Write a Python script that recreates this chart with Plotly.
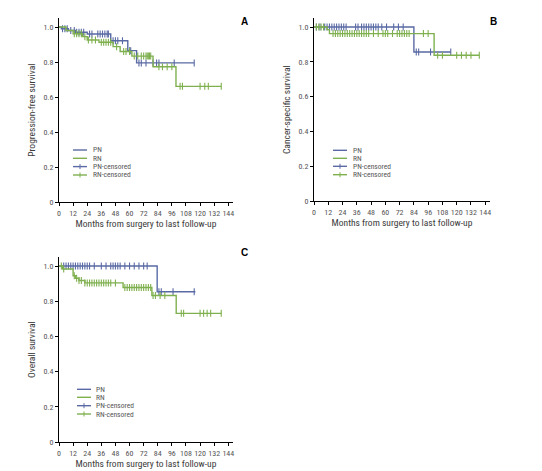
import bisect
import plotly.graph_objects as go

W, H = 542, 471

# ---------------- data ----------------
x_ticks = [0, 12, 24, 36, 48, 60, 72, 84, 96, 108, 120, 132, 144]
y_ticks = [0, 0.2, 0.4, 0.6, 0.8, 1.0]
y_tick_labels = ["0", "0.2", "0.4", "0.6", "0.8", "1.0"]
legend_labels = ["PN", "RN", "PN-censored", "RN-censored"]

# Panel A: progression-free survival
a_pn_times = [0, 2, 8, 14, 24, 44, 58.5, 66]
a_pn_surv = [1.0, 0.99, 0.98, 0.97, 0.96, 0.922, 0.865, 0.795]
a_pn_end = 115
a_pn_cens = [3, 5, 7, 10, 13, 15, 17, 19, 21, 26, 28, 33, 35, 37, 39, 41, 42, 46, 48,
             50, 54, 60, 61, 68, 70, 74, 80, 83, 85, 98, 115]
a_rn_times = [0, 6, 12, 20, 24, 34, 46, 52, 62, 80, 99.5]
a_rn_surv = [1.0, 0.98, 0.962, 0.945, 0.926, 0.913, 0.888, 0.86, 0.834, 0.773, 0.661]
a_rn_end = 138
a_rn_cens = [13, 15, 17, 19, 22, 25, 28, 31, 36, 38, 40, 42, 44, 49, 55, 57, 60, 64, 67,
             70, 72, 74, 75, 76, 77, 78, 85, 88, 92, 96, 103, 105, 120, 124, 127, 138]

# Panel B: cancer-specific survival
b_pn_times = [0, 84]
b_pn_surv = [1.0, 0.856]
b_pn_end = 115
b_pn_cens = [2, 5, 9, 11, 13, 15, 17, 19, 21, 23, 25, 27, 35, 37, 40, 42, 44, 46, 48, 50,
             52, 54, 57, 61, 67, 71, 75, 86, 88, 98, 115]
b_rn_times = [0, 11, 13, 101]
b_rn_surv = [1.0, 0.985, 0.962, 0.838]
b_rn_end = 139
b_rn_cens = [2, 4, 6, 8, 16, 18, 20, 22, 24, 26, 28, 30, 32, 34, 36, 38, 40, 42, 44, 46,
             50, 54, 58, 60, 62, 66, 70, 72, 74, 76, 78, 80, 92, 96, 104, 108, 120, 124,
             128, 132, 139]

# Panel C: overall survival
c_pn_times = [0, 83.5]
c_pn_surv = [1.0, 0.854]
c_pn_end = 116
c_pn_cens = [4, 6, 8, 10, 12, 14, 16, 18, 20, 22, 24, 26, 30, 36, 40, 44, 46, 48, 50, 52,
             56, 60, 64, 68, 72, 75, 85, 87, 97, 115]
c_rn_times = [0, 3, 12, 14, 17, 22, 54.5, 79, 99.7]
c_rn_surv = [1.0, 0.983, 0.945, 0.93, 0.918, 0.904, 0.878, 0.832, 0.731]
c_rn_end = 138
c_rn_cens = [2, 4, 13, 15, 17, 19, 22, 24, 26, 28, 30, 32, 34, 36, 38, 40, 42, 44, 48, 56,
             58, 60, 62, 64, 66, 68, 70, 72, 74, 76, 78, 80, 82, 86, 90, 104, 106, 120,
             123, 126, 129, 138]

# ---------------- style ----------------
BLUE = "#5a6aa4"
GREEN = "#7fb04f"
FONT = "Liberation Sans Narrow, Arial Narrow, Roboto Condensed, Liberation Sans, sans-serif"
TICK_COLOR = "#555555"
TITLE_COLOR = "#3a3a3a"


def px(x):
    return x / W


def py(y):
    return 1 - y / H


def surv_at(times, surv, t):
    i = bisect.bisect_right(times, t) - 1
    return surv[max(i, 0)]


fig = go.Figure()

panels = [
    dict(name="A", ytitle="Progression-free survival",
         pn=(a_pn_times, a_pn_surv, a_pn_end, a_pn_cens),
         rn=(a_rn_times, a_rn_surv, a_rn_end, a_rn_cens),
         xdom=(59, 233), ydom=(202, 18.3), label=(244, 14),
         leg=dict(x0=73, x1=87, tx=91, rows=[150, 158.3, 166.6, 175])),
    dict(name="B", ytitle="Cancer-specific survival",
         pn=(b_pn_times, b_pn_surv, b_pn_end, b_pn_cens),
         rn=(b_rn_times, b_rn_surv, b_rn_end, b_rn_cens),
         xdom=(314, 490), ydom=(201, 18.3), label=(499, 14),
         leg=dict(x0=333, x1=347, tx=351, rows=[150.3, 158.3, 166.3, 174.7])),
    dict(name="C", ytitle="Overall survival",
         pn=(c_pn_times, c_pn_surv, c_pn_end, c_pn_cens),
         rn=(c_rn_times, c_rn_surv, c_rn_end, c_rn_cens),
         xdom=(59, 233), ydom=(442, 257.2), label=(244, 252),
         leg=dict(x0=77, x1=91, tx=94, rows=[389.3, 397.3, 405.7, 414])),
]

for k, p in enumerate(panels, start=1):
    xa = "x" if k == 1 else f"x{k}"
    ya = "y" if k == 1 else f"y{k}"
    for (times, surv, end, cens), color in ((p["pn"], BLUE), (p["rn"], GREEN)):
        fig.add_trace(go.Scatter(
            x=times + [end], y=surv + [surv[-1]], mode="lines",
            line=dict(color=color, width=1.4, shape="hv"),
            xaxis=xa, yaxis=ya, showlegend=False, hoverinfo="skip"))
        fig.add_trace(go.Scatter(
            x=cens, y=[surv_at(times, surv, t) for t in cens], mode="markers",
            marker=dict(symbol="line-ns", size=5, color=color,
                        line=dict(color=color, width=1.1)),
            xaxis=xa, yaxis=ya, showlegend=False, hoverinfo="skip"))

    axis_common = dict(showline=True, linecolor="black", linewidth=1,
                       ticks="outside", ticklen=3, tickcolor="black",
                       showgrid=False, zeroline=False, automargin=False,
                       tickfont=dict(family=FONT, size=8, color=TICK_COLOR))
    fig.update_layout(**{
        ("xaxis" if k == 1 else f"xaxis{k}"): dict(
            domain=[px(p["xdom"][0]), px(p["xdom"][1])], range=[0, 148],
            tickvals=x_ticks, anchor=ya,
            title=dict(text="Months from surgery to last follow-up",
                       font=dict(family=FONT, size=9.5, color=TITLE_COLOR), standoff=0),
            **axis_common),
        ("yaxis" if k == 1 else f"yaxis{k}"): dict(
            domain=[py(p["ydom"][0]), py(p["ydom"][1])], range=[0, 1.05],
            tickvals=y_ticks, ticktext=y_tick_labels, anchor=xa,
            title=dict(text=p["ytitle"],
                       font=dict(family=FONT, size=9.5, color=TITLE_COLOR), standoff=6),
            **axis_common),
    })

    # panel letter
    fig.add_annotation(x=px(p["label"][0]), y=py(p["label"][1]), xref="paper", yref="paper",
                       text=f"<b>{p['name']}</b>", showarrow=False,
                       font=dict(family="Liberation Sans, Arial, sans-serif", size=10, color="black"))

    # legend (drawn manually to match the compact layout)
    lg = p["leg"]
    colors = [BLUE, GREEN, BLUE, GREEN]
    for i, (lab, col, ry) in enumerate(zip(legend_labels, colors, lg["rows"])):
        fig.add_shape(type="line", xref="paper", yref="paper",
                      x0=px(lg["x0"]), x1=px(lg["x1"]), y0=py(ry), y1=py(ry),
                      line=dict(color=col, width=1.4))
        if i >= 2:
            xm = (lg["x0"] + lg["x1"]) / 2
            fig.add_shape(type="line", xref="paper", yref="paper",
                          x0=px(xm), x1=px(xm), y0=py(ry - 2.5), y1=py(ry + 2.5),
                          line=dict(color=col, width=1))
        fig.add_annotation(x=px(lg["tx"]), y=py(ry), xref="paper", yref="paper",
                           text=lab, showarrow=False, xanchor="left", yanchor="middle",
                           font=dict(family=FONT, size=7.5, color=TICK_COLOR))

fig.update_layout(width=W, height=H, margin=dict(l=0, r=0, t=0, b=0),
                  paper_bgcolor="white", plot_bgcolor="white", showlegend=False)

fig.write_html("out.html", config={"displayModeBar": False},
               post_script="document.body.style.margin='0';document.body.style.overflow='hidden';")
